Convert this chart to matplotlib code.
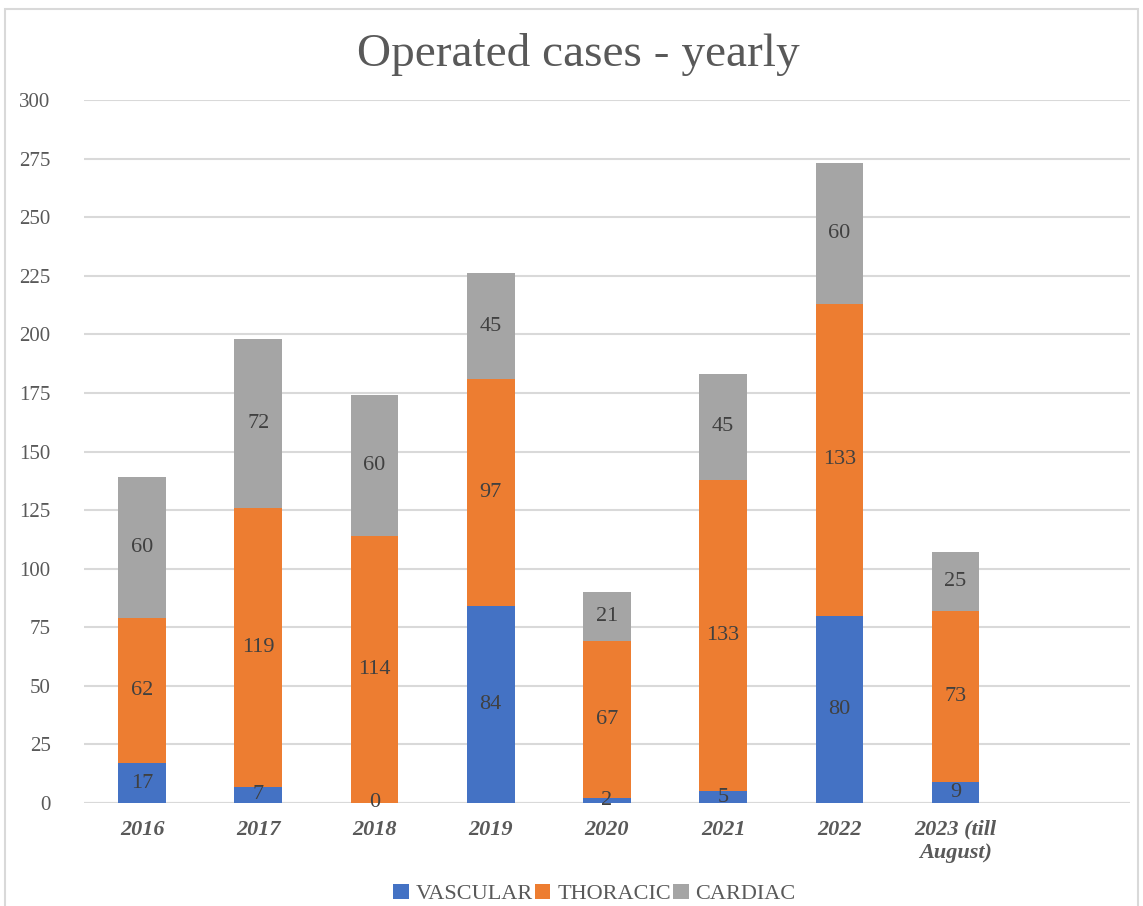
import numpy as np
import matplotlib
matplotlib.use("Agg")
import matplotlib.pyplot as plt
from matplotlib.patches import Rectangle

years = ["2016", "2017", "2018", "2019", "2020", "2021", "2022", "2023 (till\nAugust)"]
vascular = [17, 7, 0, 84, 2, 5, 80, 9]
thoracic = [62, 119, 114, 97, 67, 133, 133, 73]
cardiac = [60, 72, 60, 45, 21, 45, 60, 25]
yticks = list(range(0, 301, 25))

colors = ["#4472C4", "#ED7D31", "#A5A5A5"]
serif = "Liberation Serif"

fig = plt.figure(figsize=(11.43, 9.06), dpi=100)
ax = fig.add_axes([0.0735, 0.1137, 0.915, 0.7759])

x = np.arange(len(years))
w = 0.41
b1 = ax.bar(x, vascular, w, color=colors[0], label="VASCULAR", zorder=3)
bottom2 = np.array(vascular)
b2 = ax.bar(x, thoracic, w, bottom=bottom2, color=colors[1], label="THORACIC", zorder=3)
bottom3 = bottom2 + np.array(thoracic)
b3 = ax.bar(x, cardiac, w, bottom=bottom3, color=colors[2], label="CARDIAC", zorder=3)

for bars in (b1, b2, b3):
    ax.bar_label(bars, label_type="center", fontsize=16, color="#404040",
                 family=serif, zorder=4)

ax.set_xlim(-0.5, len(years) + 0.5)
ax.set_ylim(0, 300)
ax.set_yticks(yticks)
ax.set_yticklabels([str(v) for v in yticks], fontsize=15, color="#595959",
                   family=serif)
ax.set_xticks(x)
ax.set_xticklabels(years, fontsize=16, color="#595959", family=serif,
                   fontweight="bold", style="italic")
ax.tick_params(axis="both", length=0)
ax.tick_params(axis="x", pad=12)
ax.tick_params(axis="y", pad=24)
ax.grid(axis="y", color="#D9D9D9", linewidth=1.5, zorder=0)
for s in ax.spines.values():
    s.set_visible(False)
ax.axhline(0, color="#D9D9D9", linewidth=1.5, zorder=1)

fig.text(0.506, 0.94, "Operated cases - yearly", ha="center", va="center",
         fontsize=34, color="#595959", family=serif)

fig.legend(loc="center", bbox_to_anchor=(0.52, 0.013), ncol=3, frameon=False,
           prop={"family": serif, "size": 16}, handlelength=0.7, handleheight=0.7,
           handletextpad=0.3, columnspacing=0.1, labelcolor="#595959")

fig.add_artist(Rectangle((0.004, -0.01), 0.992, 1.0, transform=fig.transFigure,
                         fill=False, edgecolor="#D9D9D9", linewidth=1.5))

fig.savefig("out.png", dpi=100)
